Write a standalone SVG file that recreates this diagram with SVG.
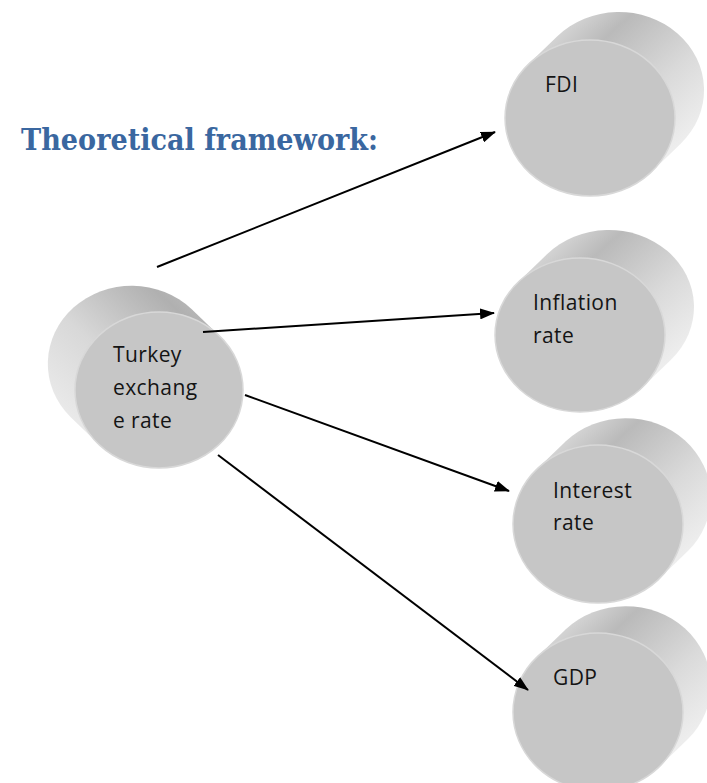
<svg xmlns="http://www.w3.org/2000/svg" width="707" height="783" viewBox="0 0 707 783">
<style>
.face{fill:#c6c6c6;stroke:#d8d8d8;stroke-width:1.5}
.bodyR{fill:url(#gR)}
.bodyL{fill:url(#gL)}
.lbl{font-family:"Open Sans","Noto Sans",sans-serif;font-size:21px;fill:#141414;letter-spacing:0.4px}
.title{font-family:"DejaVu Serif","Liberation Serif",serif;font-weight:bold;font-size:29px;fill:#3a67a0}
.conn line{stroke:#000;stroke-width:2;marker-end:url(#ah)}
</style>
<defs>
<linearGradient id="gR" x1="0" y1="0" x2="1" y2="1">
<stop offset="0" stop-color="#efefef"/>
<stop offset="0.3" stop-color="#bababa"/>
<stop offset="0.6" stop-color="#dadada"/>
<stop offset="0.9" stop-color="#f2f2f2"/>
</linearGradient>
<linearGradient id="gL" x1="0" y1="1" x2="1" y2="0">
<stop offset="0" stop-color="#f2f2f2"/>
<stop offset="0.45" stop-color="#d8d8d8"/>
<stop offset="0.8" stop-color="#b0b0b0"/>
<stop offset="1" stop-color="#c4c4c4"/>
</linearGradient>
<marker id="ah" markerUnits="userSpaceOnUse" markerWidth="15" markerHeight="11" refX="14" refY="5.5" orient="auto">
<path d="M0,0 L15,5.5 L0,11 z" fill="#000"/>
</marker>
</defs>
<rect width="707" height="783" fill="#fff"/>
<text class="title" x="21" y="150" textLength="357" lengthAdjust="spacingAndGlyphs">Theoretical framework:</text>

<g id="node-turkey">
<path class="bodyL" d="M219.5 335.9 L191.5 308.9 A84 78 0 0 0 70.5 417.1 L98.5 444.1 Z"/>
<ellipse class="face" cx="159" cy="390" rx="84" ry="78"/>
<text class="lbl" x="113" y="362">Turkey</text>
<text class="lbl" x="113" y="395">exchang</text>
<text class="lbl" x="113" y="428">e rate</text>
</g>
<g id="node-fdi">
<path class="bodyR" d="M528.3 64.3 L557.3 36.3 A85 78 0 0 1 680.7 143.7 L651.7 171.7 Z"/>
<ellipse class="face" cx="590" cy="118" rx="85" ry="78"/>
<text class="lbl" x="545" y="92">FDI</text>
</g>
<g id="node-inflation">
<path class="bodyR" d="M518 282.3 L547 254.3 A85 77 0 0 1 671 359.7 L642 387.7 Z"/>
<ellipse class="face" cx="580" cy="335" rx="85" ry="77"/>
<text class="lbl" x="533" y="310">Inflation</text>
<text class="lbl" x="533" y="343">rate</text>
</g>
<g id="node-interest">
<path class="bodyR" d="M536.8 469.2 L565.8 441.2 A85 79 0 0 1 688.2 550.8 L659.2 578.8 Z"/>
<ellipse class="face" cx="598" cy="524" rx="85" ry="79"/>
<text class="lbl" x="553" y="498">Interest</text>
<text class="lbl" x="553" y="530">rate</text>
</g>
<g id="node-gdp">
<path class="bodyR" d="M536.8 657.2 L565.8 629.2 A85 79 0 0 1 688.2 738.8 L659.2 766.8 Z"/>
<ellipse class="face" cx="598" cy="712" rx="85" ry="79"/>
<text class="lbl" x="553" y="685">GDP</text>
</g>

<g id="connectors" class="conn">
<line x1="157" y1="267" x2="495" y2="132"/>
<line x1="203" y1="332" x2="494" y2="313"/>
<line x1="245" y1="395" x2="509" y2="491"/>
<line x1="218" y1="455" x2="528" y2="690"/>
</g>
</svg>
